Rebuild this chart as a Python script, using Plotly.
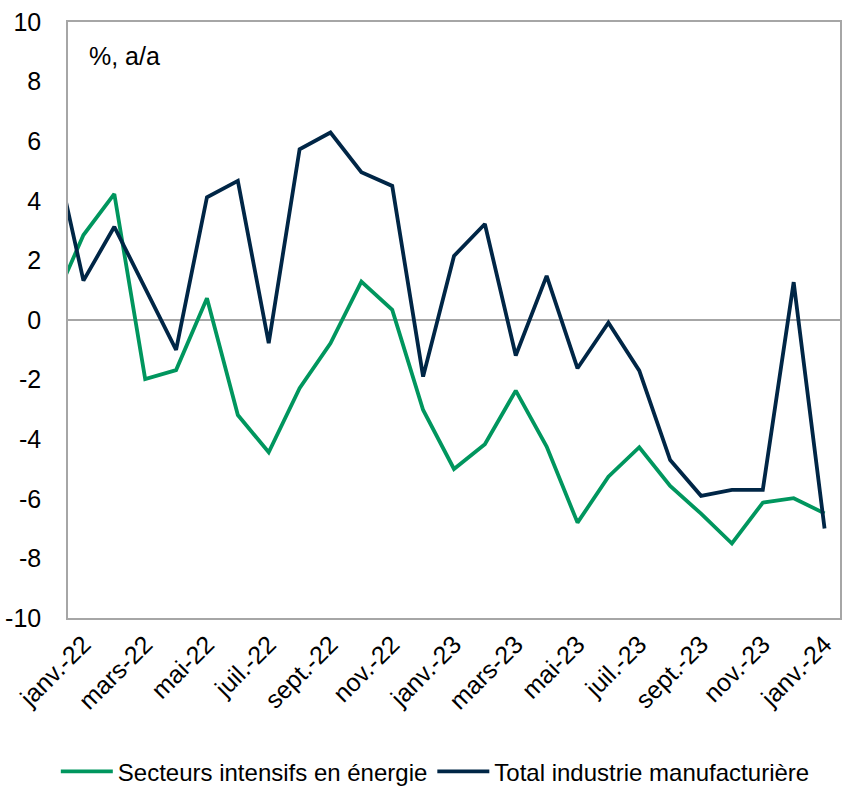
import plotly.graph_objects as go

months = ["déc.-21", "janv.-22", "févr.-22", "mars-22", "avr.-22", "mai-22", "juin-22", "juil.-22",
          "août-22", "sept.-22", "oct.-22", "nov.-22", "déc.-22", "janv.-23", "févr.-23",
          "mars-23", "avr.-23", "mai-23", "juin-23", "juil.-23", "août-23", "sept.-23",
          "oct.-23", "nov.-23", "déc.-23", "janv.-24"]

energie = [0.5, 2.85, 4.23, -1.98, -1.68, 0.73, -3.19, -4.44, -2.29, -0.78, 1.29, 0.34, -3.02,
           -5.0, -4.17, -2.37, -4.25, -6.80, -5.26, -4.27, -5.57, -6.5, -7.5, -6.13, -5.98, -6.49]

total = [6.0, 1.32, 3.13, 1.07, -1.0, 4.12, 4.67, -0.78, 5.73, 6.29, 4.96, 4.50, -1.90,
         2.15, 3.22, -1.19, 1.48, -1.62, -0.09, -1.7, -4.7, -5.9, -5.7, -5.7, 1.27, -7.0]

tick_labels = ["janv.-22", "mars-22", "mai-22", "juil.-22", "sept.-22", "nov.-22", "janv.-23",
               "mars-23", "mai-23", "juil.-23", "sept.-23", "nov.-23", "janv.-24"]

y_ticks = [-10, -8, -6, -4, -2, 0, 2, 4, 6, 8, 10]
y_tick_labels = [str(v) for v in y_ticks]

x = list(range(len(months)))
tickvals = [months.index(t) for t in tick_labels]

GREEN = "#00965e"
NAVY = "#002646"
FONT = "Liberation Sans, Arial, sans-serif"

fig = go.Figure()
fig.add_trace(go.Scatter(x=x, y=energie, mode="lines", name="Secteurs intensifs en énergie",
                         line=dict(color=GREEN, width=3.8)))
fig.add_trace(go.Scatter(x=x, y=total, mode="lines", name="Total industrie manufacturière",
                         line=dict(color=NAVY, width=3.8)))

fig.update_layout(
    width=862, height=786,
    margin=dict(l=68, r=22, t=22, b=168, autoexpand=False),
    paper_bgcolor="white", plot_bgcolor="white",
    font=dict(family=FONT, size=25, color="black"),
    showlegend=True,
    legend=dict(orientation="h", xref="container", yref="container", x=0.505, xanchor="center",
                y=0.018, yanchor="middle", font=dict(size=24), itemwidth=52,
                tracegroupgap=0),
    annotations=[dict(text="%, a/a", xref="paper", yref="paper", x=0.024, y=0.943,
                      xanchor="left", yanchor="middle", showarrow=False,
                      font=dict(size=25, family=FONT))],
)

fig.update_xaxes(range=[0.5, 25.5], tickmode="array", tickvals=tickvals, ticktext=tick_labels,
                 tickangle=-45, showgrid=False, zeroline=False, showline=True,
                 linecolor="#a6a6a6", linewidth=1.5, mirror=True, ticks="", automargin=False,
                 tickfont=dict(size=25, family=FONT))
fig.update_yaxes(range=[-10, 10], tickmode="array", tickvals=y_ticks, ticktext=y_tick_labels,
                 showgrid=False, zeroline=True, zerolinecolor="#a6a6a6",
                 zerolinewidth=1.5, showline=True, linecolor="#a6a6a6", linewidth=1.5, mirror=True,
                 ticks="", ticklabelstandoff=20, automargin=False,
                 tickfont=dict(size=25, family=FONT))

fig.write_html("out.html")
